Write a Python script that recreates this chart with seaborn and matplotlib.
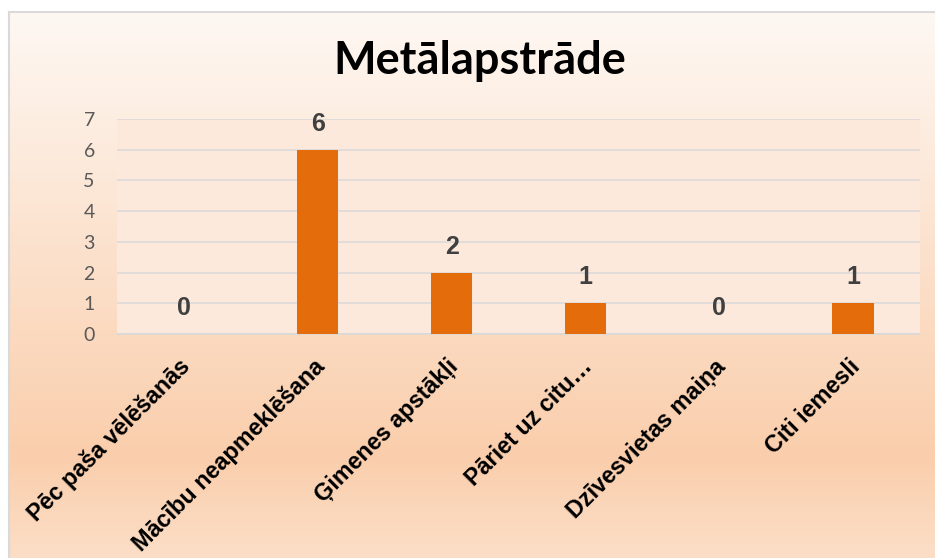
import numpy as np
import pandas as pd
import seaborn as sns
import matplotlib.pyplot as plt
import matplotlib.transforms as mtransforms
from matplotlib.colors import LinearSegmentedColormap

# data
categories = ['Pēc paša vēlēšanās', 'Mācību neapmeklēšana', 'Ģimenes apstākļi',
              'Pāriet uz citu…', 'Dzīvesvietas maiņa', 'Citi iemesli']
counts = [0, 6, 2, 1, 0, 1]
title = 'Metālapstrāde'

df = pd.DataFrame({'category': categories, 'count': counts})

W, H, DPI = 935, 558, 100
sns.set_theme(style='white')
plt.rcParams['font.family'] = ['Liberation Sans', 'DejaVu Sans']

fig = plt.figure(figsize=(W / DPI, H / DPI), dpi=DPI)
fig.patch.set_facecolor('white')

# background gradient of the chart area (light peach -> orange -> lighter)
bg = fig.add_axes([9 / W, -0.02, 1.0, (H - 12) / H + 0.02], zorder=0)
grad = LinearSegmentedColormap.from_list(
    'bg', [(0.0, '#FEF8F3'), (0.80, '#FACEAC'), (1.0, '#FCE0CA')])
bg.imshow(np.linspace(0, 1, 256).reshape(-1, 1), aspect='auto', cmap=grad,
          extent=[0, 1, 0, 1], origin='upper')
bg.set_xticks([])
bg.set_yticks([])
for side in ['right', 'bottom']:
    bg.spines[side].set_visible(False)
for side in ['left', 'top']:
    bg.spines[side].set_color('#D9D9D9')
    bg.spines[side].set_linewidth(1.5)

ax = fig.add_axes([117 / W, 1 - 334 / H, (920 - 117) / W, (334 - 119) / H], zorder=1)
ax.set_facecolor('#FCE9DB')

sns.barplot(data=df, x='category', y='count', color='#E46C0A', width=0.31,
            saturation=1, linewidth=0, ax=ax, zorder=3)

ax.set_ylim(0, 7)
ax.set_xlim(-0.5, len(categories) - 0.5)
ax.set_yticks(range(0, 8))
ax.yaxis.grid(True, color='#D9D9D9', linewidth=1.1, zorder=1)
ax.set_axisbelow(True)
for side in ['left', 'right', 'top']:
    ax.spines[side].set_visible(False)
ax.spines['bottom'].set_color('#D9D9D9')
ax.spines['bottom'].set_linewidth(1.1)
ax.set_xlabel('')
ax.set_ylabel('')

ax.tick_params(axis='y', length=0, pad=16, labelsize=14, labelcolor='#595959')
for lab in ax.get_yticklabels():
    lab.set_family(['Lato', 'DejaVu Sans'])

ax.tick_params(axis='x', length=0, pad=21)
offset = mtransforms.ScaledTranslation(3 / DPI, 0, fig.dpi_scale_trans)
for lab in ax.get_xticklabels():
    lab.set_rotation(45)
    lab.set_rotation_mode('anchor')
    lab.set_ha('right')
    lab.set_va('center')
    lab.set_fontsize(16.8)
    lab.set_fontweight('bold')
    lab.set_color('black')
    lab.set_transform(lab.get_transform() + offset)

for cont in ax.containers:
    ax.bar_label(cont, labels=[str(v) for v in counts], padding=10,
                 fontsize=18, fontweight='bold', color='#404040')

fig.text(480 / W, 1 - 61 / H, title, ha='center', va='center', fontsize=32.5,
         fontweight='bold', family=['Lato', 'DejaVu Sans'], color='black')

fig.savefig('out.png', dpi=DPI)
